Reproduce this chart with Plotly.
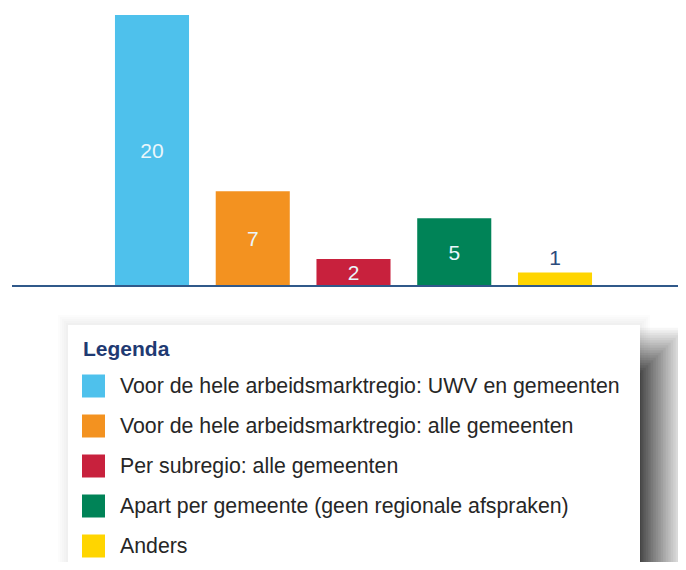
import plotly.graph_objects as go

# ---- data ----
categories = [
    "Voor de hele arbeidsmarktregio: UWV en gemeenten",
    "Voor de hele arbeidsmarktregio: alle gemeenten",
    "Per subregio: alle gemeenten",
    "Apart per gemeente (geen regionale afspraken)",
    "Anders",
]
values = [20, 7, 2, 5, 1]
colors = ["#4EC1EC", "#F39220", "#C8213D", "#008357", "#FFD500"]
legend_title = "Legenda"

OFF = 8            # page body margin of the html page
W, H = 686 - OFF, 570 - 2 * OFF

def px(x):
    """page pixel x -> paper coordinate"""
    return (x - OFF) / W

def py(y):
    """page pixel y -> paper coordinate"""
    return 1 - (y - OFF) / H

FONT = "Liberation Sans, Arial, sans-serif"

fig = go.Figure()

positions = list(range(len(values)))
text_pos = ["inside" if v >= 2 else "outside" for v in values]
text_col = ["#EAF6FB" if v >= 2 else "#2B4B7C" for v in values]

fig.add_trace(go.Bar(
    x=positions,
    y=values,
    width=0.735,
    marker=dict(color=colors, line=dict(width=0)),
    text=[str(v) for v in values],
    textposition=text_pos,
    textangle=0,
    insidetextanchor="middle",
    textfont=dict(family=FONT, size=21, color=text_col),
    cliponaxis=False,
    showlegend=False,
    hoverinfo="skip",
))

unit = 100.75
c0 = 152      # page x of first bar centre
x_left = 12   # page x where baseline starts
x_right = 686
fig.update_xaxes(
    domain=[px(x_left), px(x_right)],
    range=[(x_left - c0) / unit, (x_right - c0) / unit],
    showgrid=False, zeroline=False, showticklabels=False, ticks="",
    showline=False,
)
fig.update_yaxes(
    domain=[py(286), py(15)],
    range=[0, 20],
    showgrid=False, zeroline=False, showticklabels=False, ticks="", showline=False,
)

shapes = []
# axis baseline
shapes.append(dict(type="line", xref="paper", yref="paper",
                   x0=px(x_left), x1=px(x_right), y0=py(286), y1=py(286),
                   line=dict(color="#30598A", width=2), layer="above"))

# legend box geometry (page px)
box_x0, box_x1, box_y0, box_y1 = 68, 640, 325, 660

# faint halo around the box
for i in range(5, 0, -1):
    e = i * 2
    shapes.append(dict(type="rect", xref="paper", yref="paper",
                       x0=px(box_x0 - e), x1=px(box_x1 + e),
                       y0=py(box_y1), y1=py(box_y0 - e),
                       fillcolor="rgba(0,0,0,0.012)", line=dict(width=0), layer="below"))

# soft drop shadow: linear ramp built from stacked layers
sh_L, sh_R, sh_T = 105, 659.5, 354
s = 27.5
N = 22
maxd = 0.80
prev = 0.0
for k in range(1, N + 1):
    e = s - (k - 0.5) * (2 * s / N)   # outermost first
    d = maxd * k / N
    a = (d - prev) / (1 - prev)
    prev = d
    shapes.append(dict(type="rect", xref="paper", yref="paper",
                       x0=px(sh_L - e), x1=px(sh_R + e),
                       y0=py(box_y1), y1=py(sh_T - e),
                       fillcolor="rgba(0,0,0,%.4f)" % a, line=dict(width=0), layer="below"))

# legend box
shapes.append(dict(type="rect", xref="paper", yref="paper",
                   x0=px(box_x0), x1=px(box_x1), y0=py(box_y1), y1=py(box_y0),
                   fillcolor="#FFFFFF", line=dict(width=0), layer="below"))

annotations = [dict(
    xref="paper", yref="paper", x=px(81), y=py(348), xanchor="left", yanchor="middle",
    text="<b>" + legend_title + "</b>", showarrow=False,
    font=dict(family=FONT, size=21, color="#1F3A72"),
)]

row0, step = 386, 40
for i, (lab, col) in enumerate(zip(categories, colors)):
    yc = row0 + i * step
    shapes.append(dict(type="rect", xref="paper", yref="paper",
                       x0=px(82), x1=px(105), y0=py(yc + 11.5), y1=py(yc - 11.5),
                       fillcolor=col, line=dict(width=0), layer="above"))
    annotations.append(dict(
        xref="paper", yref="paper", x=px(117.5), y=py(yc), xanchor="left", yanchor="middle",
        text=lab, showarrow=False,
        font=dict(family=FONT, size=21.3, color="#262626"),
    ))

fig.update_layout(
    width=W, height=H,
    margin=dict(l=0, r=0, t=0, b=0),
    paper_bgcolor="#FFFFFF",
    plot_bgcolor="rgba(0,0,0,0)",
    shapes=shapes,
    annotations=annotations,
    uniformtext=dict(minsize=21, mode="show"),
    showlegend=False,
)

fig.write_html("out.html")
